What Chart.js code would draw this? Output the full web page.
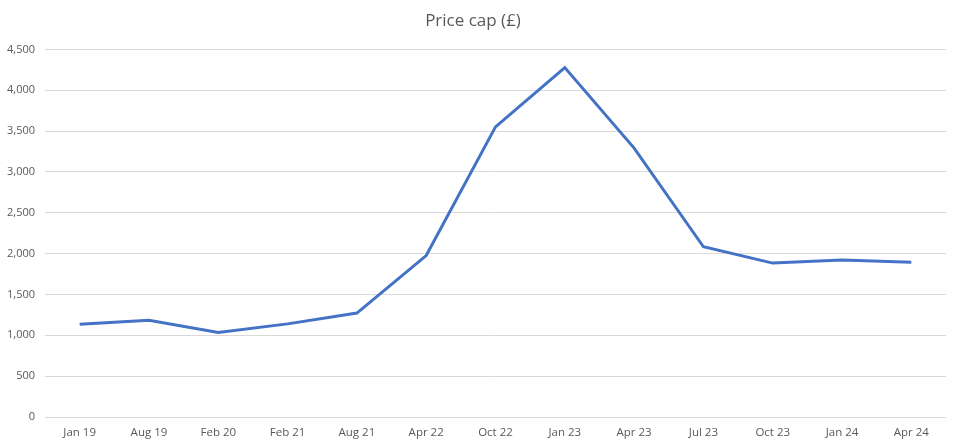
<!DOCTYPE html>
<html>
<head>
<meta charset="utf-8">
<script src="https://cdn.jsdelivr.net/npm/chart.js@4.4.0/dist/chart.umd.min.js"></script>
<style>
html,body{margin:0;padding:0;background:#fff;}
#wrap{width:958px;height:446px;position:relative;}
</style>
</head>
<body>
<div id="wrap"><canvas id="c"></canvas></div>
<script>
const categories = ["Jan 19","Aug 19","Feb 20","Feb 21","Aug 21","Apr 22","Oct 22","Jan 23","Apr 23","Jul 23","Oct 23","Jan 24","Apr 24"];
const priceCap = [1135, 1184, 1035, 1140, 1272, 1976, 3552, 4278, 3292, 2084, 1884, 1922, 1894];
const yTicks = [0, 500, 1000, 1500, 2000, 2500, 3000, 3500, 4000, 4500];
const titleText = "Price cap (£)";

const FONT = "'Open Sans', 'Liberation Sans', sans-serif";
new Chart(document.getElementById('c'), {
  type: 'line',
  data: {
    labels: categories,
    datasets: [{
      data: priceCap,
      borderColor: '#4472C4',
      borderWidth: 3,
      pointRadius: 0,
      pointHoverRadius: 0,
      tension: 0,
      fill: false
    }]
  },
  options: {
    responsive: true,
    maintainAspectRatio: false,
    animation: false,
    layout: { padding: { left: 0, right: 12, top: 0, bottom: 0 } },
    plugins: {
      legend: { display: false },
      tooltip: { enabled: false },
      title: {
        display: true,
        text: titleText,
        color: '#595959',
        font: { family: FONT, size: 17, weight: 'normal' },
        padding: { top: 11, bottom: 18 }
      }
    },
    scales: {
      x: {
        offset: true,
        grid: { display: false, drawTicks: false },
        border: { display: false },
        ticks: {
          color: '#595959',
          font: { family: FONT, size: 11.5 },
          padding: 9,
          maxRotation: 0,
          autoSkip: false
        },
        afterFit: s => { s.height = 29; }
      },
      y: {
        min: 0,
        max: 4500,
        afterBuildTicks: s => { s.ticks = yTicks.map(v => ({ value: v })); },
        grid: { color: '#D9D9D9', lineWidth: 1, drawTicks: false },
        border: { display: false },
        ticks: {
          color: '#595959',
          font: { family: FONT, size: 11 },
          padding: 10,
          callback: v => v.toLocaleString('en-GB')
        },
        afterFit: s => { s.width = 45; }
      }
    }
  }
});
</script>
</body>
</html>
